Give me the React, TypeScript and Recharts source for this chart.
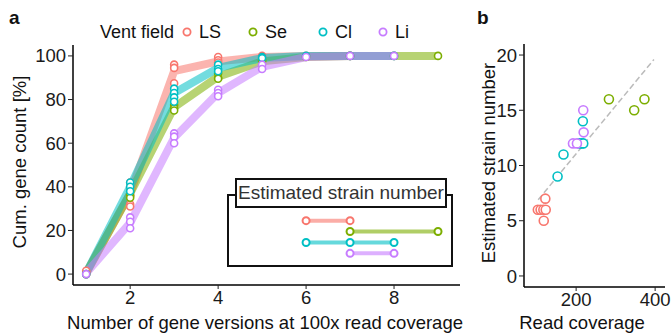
import React from 'react';
import {
  ComposedChart,
  Line,
  Scatter,
  XAxis,
  YAxis
} from 'recharts';

// vent fields and colours (ggplot hue palette)
const fields = ['LS', 'Se', 'Cl', 'Li'];
const colors = ['#F8766D', '#7CAE00', '#00BFC4', '#C77CFF'];

// panel a: mean cumulative gene count per number of gene versions
const lsVersions = [1, 2, 3, 4, 5, 6, 7];
const lsMean = [0.5, 37, 93, 97.5, 99.5, 100, 100];
const seVersions = [1, 2, 3, 4, 5, 6, 7, 8, 9];
const seMean = [0.5, 37, 76.5, 90.5, 97.5, 99.5, 100, 100, 100];
const clVersions = [1, 2, 3, 4, 5, 6, 7, 8];
const clMean = [0.5, 40, 83, 94.5, 99, 100, 100, 100];
const liVersions = [1, 2, 3, 4, 5, 6, 7, 8];
const liMean = [0.5, 23.5, 62.5, 83, 95, 99.5, 100, 100];

// panel a: single samples [versions, cum. %]
const lsSamples = [
  [1, 0], [1, 1], [1, 1.5],
  [2, 42], [2, 40], [2, 36], [2, 32], [2, 31],
  [3, 96], [3, 94.5], [3, 87.5],
  [4, 99.5], [4, 98], [4, 97],
  [5, 100], [5, 99.5], [6, 100], [7, 100]
];
const seSamples = [
  [1, 0], [2, 38], [2, 36], [2, 35],
  [3, 77.5], [3, 76], [3, 75],
  [4, 92], [4, 90], [4, 89.5],
  [5, 98], [5, 97.5], [6, 99.5], [7, 100], [8, 100], [9, 100]
];
const clSamples = [
  [1, 0], [2, 42], [2, 40], [2, 38],
  [3, 85], [3, 83], [3, 81], [3, 79],
  [4, 96], [4, 94], [4, 93],
  [5, 99.5], [5, 99], [6, 100], [7, 100], [8, 100]
];
const liSamples = [
  [1, 0], [2, 26], [2, 24], [2, 21],
  [3, 64.5], [3, 63], [3, 60],
  [4, 84.5], [4, 83], [4, 81.5],
  [5, 96], [5, 94], [6, 99.5], [7, 100], [8, 100]
];

// inset: range of estimated strain number per field
const lsRange = [6, 7];
const seRange = [7, 9];
const clRange = [6, 7, 8];
const liRange = [7, 8];

// panel b: read coverage vs estimated strain number
const lsStrains = [[103, 6], [110, 6], [117, 6], [123, 6], [122, 7], [118, 5]];
const seStrains = [[283, 16], [347, 15], [373, 16]];
const clStrains = [[153, 9], [168, 11], [208, 12], [214, 12], [218, 12], [217, 14]];
const liStrains = [[192, 12], [202, 12], [219, 13], [218, 15]];
const fitEnds = [[104, 6.9], [397, 19.6]];

const font = '"Liberation Sans", Arial, sans-serif';

const toXY = (pts: number[][]) => pts.map(([x, y]) => ({ x, y }));
const zipXY = (xs: number[], ys: number[]) => xs.map((x, i) => ({ x, y: ys[i] }));

const meanLines = [
  zipXY(lsVersions, lsMean),
  zipXY(seVersions, seMean),
  zipXY(clVersions, clMean),
  zipXY(liVersions, liMean)
];
const samplePts = [lsSamples, seSamples, clSamples, liSamples].map(toXY);
const insetLines = [lsRange, seRange, clRange, liRange].map((r, i) =>
  r.map((x) => ({ x, y: 24.5 - i * 5 }))
);
const strainPts = [lsStrains, seStrains, clStrains, liStrains].map(toXY);

const hollow = (color: string, r: number) => (props: any) => (
  <circle
    cx={props.cx}
    cy={props.cy}
    r={r}
    fill="#fff"
    stroke={color}
    strokeWidth={1.6}
  />
);

const tickStyle = { fontSize: 18.5, fill: '#1a1a1a', fontFamily: font };

const abs = (extra: React.CSSProperties): React.CSSProperties => ({
  position: 'absolute',
  fontFamily: font,
  color: '#111',
  whiteSpace: 'nowrap',
  ...extra
});

const App: React.FC = () => {
  return (
    <div
      style={{
        position: 'absolute',
        left: 0,
        top: 0,
        width: 672,
        height: 336,
        background: '#fff',
        overflow: 'hidden'
      }}
    >
      {/* inset legend box (behind the chart marks) */}
      <div
        style={{
          position: 'absolute',
          left: 227,
          top: 194,
          width: 222,
          height: 69,
          border: '2px solid #111'
        }}
      />
      <div
        style={abs({
          left: 235,
          top: 178,
          width: 208,
          height: 26,
          border: '2px solid #111',
          background: '#fff',
          color: '#333',
          fontSize: 19,
          lineHeight: '26px',
          textAlign: 'center'
        })}
      >
        Estimated strain number
      </div>

      <div style={{ position: 'absolute', left: 0, top: 0 }}>
        <ComposedChart
          width={470}
          height={336}
          margin={{ top: 45, right: 10, bottom: 21, left: 0 }}
        >
          <XAxis
            dataKey="x"
            type="number"
            height={30}
            domain={[0.7, 9.5]}
            ticks={[2, 4, 6, 8]}
            allowDuplicatedCategory={false}
            axisLine={{ stroke: '#000', strokeWidth: 1.5 }}
            tickLine={{ stroke: '#222' }}
            tickSize={4}
            tick={tickStyle}
          />
          <YAxis
            dataKey="y"
            type="number"
            width={73}
            domain={[-5, 105]}
            ticks={[0, 20, 40, 60, 80, 100]}
            axisLine={{ stroke: '#000', strokeWidth: 1.5 }}
            tickLine={{ stroke: '#222' }}
            tickSize={5}
            tickMargin={2}
            tick={tickStyle}
          />
          {meanLines.map((d, i) => (
            <Line
              key={'m' + fields[i]}
              data={d}
              dataKey="y"
              type="linear"
              stroke={colors[i]}
              strokeOpacity={0.55}
              strokeWidth={8}
              strokeLinejoin="round"
              dot={false}
              isAnimationActive={false}
            />
          ))}
          {samplePts.map((d, i) => (
            <Scatter
              key={'s' + fields[i]}
              data={d}
              dataKey="y"
              shape={hollow(colors[i], 3.5)}
              isAnimationActive={false}
            />
          ))}
          {insetLines.map((d, i) => (
            <Line
              key={'r' + fields[i]}
              data={d}
              dataKey="y"
              type="linear"
              stroke={colors[i]}
              strokeOpacity={0.6}
              strokeWidth={4}
              dot={{ r: 3.5, fill: '#fff', stroke: colors[i], strokeWidth: 2, strokeOpacity: 1 }}
              isAnimationActive={false}
            />
          ))}
        </ComposedChart>
      </div>

      <div style={{ position: 'absolute', left: 470, top: 0 }}>
        <ComposedChart
          width={202}
          height={336}
          margin={{ top: 44, right: 7, bottom: 19, left: 0 }}
        >
          <XAxis
            dataKey="x"
            type="number"
            height={30}
            domain={[68, 425]}
            ticks={[200, 400]}
            axisLine={{ stroke: '#000', strokeWidth: 1.5 }}
            tickLine={{ stroke: '#222' }}
            tickSize={4}
            tick={tickStyle}
          />
          <YAxis
            dataKey="y"
            type="number"
            width={54}
            domain={[-1, 21]}
            ticks={[0, 5, 10, 15, 20]}
            axisLine={{ stroke: '#000', strokeWidth: 1.5 }}
            tickLine={{ stroke: '#222' }}
            tickSize={5}
            tickMargin={2}
            tick={tickStyle}
          />
          <Line
            data={toXY(fitEnds)}
            dataKey="y"
            type="linear"
            stroke="#bbb"
            strokeWidth={1.5}
            strokeDasharray="6 3"
            dot={false}
            isAnimationActive={false}
          />
          {strainPts.map((d, i) => (
            <Scatter
              key={'b' + fields[i]}
              data={d}
              dataKey="y"
              shape={hollow(colors[i], 4.5)}
              isAnimationActive={false}
            />
          ))}
        </ComposedChart>
      </div>

      {/* panel letters */}
      <div style={abs({ left: 9, top: 7, fontSize: 19, fontWeight: 'bold' })}>a</div>
      <div style={abs({ left: 477, top: 7, fontSize: 19, fontWeight: 'bold' })}>b</div>

      {/* top legend */}
      <div style={abs({ left: 100, top: 21, fontSize: 18, lineHeight: '22px' })}>
        Vent field
      </div>
      {fields.map((f, i) => {
        const cx = [187, 253, 323, 383][i];
        return (
          <React.Fragment key={'lg' + f}>
            <svg
              width={12}
              height={12}
              style={{ position: 'absolute', left: cx - 6, top: 26 }}
            >
              <circle cx={6} cy={6} r={3.6} fill="#fff" stroke={colors[i]} strokeWidth={1.8} />
            </svg>
            <div style={abs({ left: cx + 12, top: 21, fontSize: 18, lineHeight: '22px' })}>
              {f}
            </div>
          </React.Fragment>
        );
      })}

      {/* axis titles */}
      <div
        style={abs({
          left: 20,
          top: 162,
          fontSize: 18.5,
          transform: 'translate(-50%, -50%) rotate(-90deg)'
        })}
      >
        Cum. gene count [%]
      </div>
      <div style={abs({ left: 265, top: 323, fontSize: 18.5, transform: 'translate(-50%, -50%)' })}>
        Number of gene versions at 100x read coverage
      </div>
      <div
        style={abs({
          left: 489,
          top: 163,
          fontSize: 18.5,
          transform: 'translate(-50%, -50%) rotate(-90deg)'
        })}
      >
        Estimated strain number
      </div>
      <div style={abs({ left: 582, top: 323, fontSize: 18.5, transform: 'translate(-50%, -50%)' })}>
        Read coverage
      </div>
    </div>
  );
};

export default App;
